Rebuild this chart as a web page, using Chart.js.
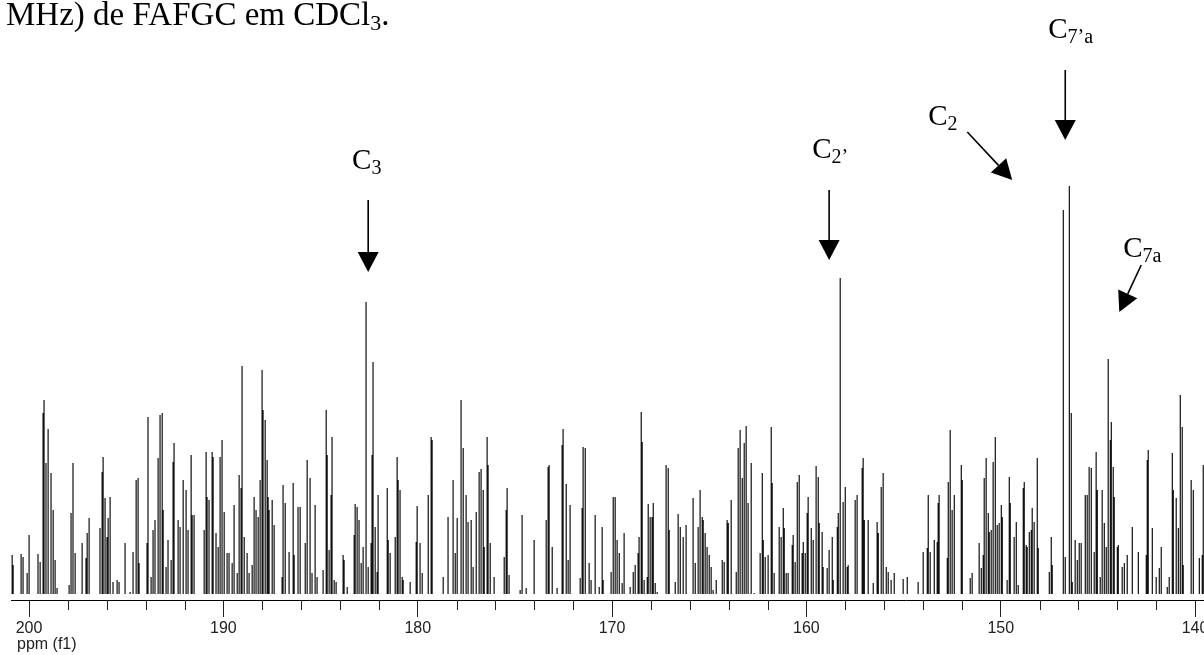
<!DOCTYPE html>
<html>
<head>
<meta charset="utf-8">
<script src="https://cdn.jsdelivr.net/npm/chart.js@4.4.1/dist/chart.umd.min.js"></script>
<style>
  html, body { margin: 0; padding: 0; background: #fff; }
</style>
</head>
<body>
<canvas id="canvas" width="1204" height="655"></canvas>
<script>
// chemical shift (ppm) of every spike, read left to right off the spectrum
let shifts = [
  // 201 - 186 ppm
  200.87,200.82,200.41,200.31,200.10,200.00,199.54,199.43,199.28,199.23,
  199.13,199.02,198.87,198.76,198.66,198.56,197.94,197.84,197.74,197.63,
  197.27,197.07,197.01,196.91,196.35,196.24,196.19,196.09,195.99,195.93,
  195.83,195.68,195.47,195.37,195.06,194.80,194.65,194.49,194.39,194.34,
  193.93,193.88,193.72,193.62,193.52,193.36,193.26,193.15,193.10,192.95,
  192.85,192.69,192.59,192.54,192.33,192.23,192.07,191.92,191.82,191.66,
  191.61,191.51,190.99,190.89,190.84,190.74,190.58,190.53,190.38,190.27,
  190.17,190.07,189.96,189.81,189.71,189.55,189.45,189.29,189.19,189.09,
  189.04,188.93,188.78,188.68,188.52,188.42,188.32,188.21,188.11,188.01,
  187.96,187.85,187.75,187.70,187.65,187.49,187.39,186.98,186.93,186.82,
  186.62,186.41,186.36,186.16,
  // 186 - 170.5 ppm
  186.05,185.79,185.69,185.54,185.44,185.28,185.18,184.87,184.71,184.66,
  184.56,184.46,184.41,184.30,184.20,183.84,183.79,183.63,183.27,183.22,
  183.12,183.02,182.91,182.81,182.66,182.55,182.40,182.35,182.30,182.19,
  182.09,182.04,181.57,181.52,181.42,181.16,181.06,181.01,180.91,180.80,
  180.75,180.39,180.08,180.03,179.88,179.77,179.46,179.31,179.26,178.69,
  178.44,178.18,178.07,177.97,177.77,177.66,177.51,177.41,177.25,177.15,
  176.99,176.84,176.74,176.63,176.58,176.43,176.38,176.27,176.07,175.55,
  175.45,175.40,175.30,174.73,174.63,174.42,174.01,173.39,173.29,173.24,
  173.08,172.83,172.57,172.52,172.36,172.26,172.16,171.64,171.54,171.49,
  171.38,171.18,171.08,170.87,170.66,
  // 170.5 - 155.5 ppm
  170.51,170.46,170.05,169.94,169.84,169.74,169.63,169.48,169.38,169.07,
  168.91,168.81,168.66,168.61,168.50,168.45,168.35,168.19,168.14,168.04,
  167.94,167.88,167.78,167.68,167.22,167.11,167.06,166.75,166.60,166.49,
  166.34,166.19,165.83,165.72,165.57,165.47,165.36,165.31,165.21,165.11,
  165.00,164.90,164.80,164.64,164.33,164.23,164.08,164.02,163.87,163.61,
  163.51,163.41,163.30,163.20,163.10,163.00,162.84,162.69,162.38,162.27,
  162.22,162.12,161.97,161.81,161.76,161.66,161.40,161.30,161.19,161.14,
  161.04,160.94,160.73,160.68,160.58,160.47,160.37,160.22,160.16,160.06,
  159.96,159.91,159.75,159.65,159.50,159.39,159.34,159.19,159.14,158.93,
  158.83,158.67,158.62,158.41,158.36,158.26,158.11,158.00,157.90,157.85,
  157.49,157.39,157.13,157.08,157.02,156.82,156.56,156.36,156.30,156.15,
  156.05,155.89,155.79,155.64,155.48,
  // 155 - 139.5 ppm
  155.02,154.81,154.25,153.99,153.78,153.73,153.63,153.42,153.27,153.22,
  153.17,152.75,152.70,152.60,152.50,152.39,152.03,151.98,151.57,151.47,
  151.11,151.00,150.90,150.85,150.75,150.64,150.59,150.49,150.39,150.28,
  150.18,150.08,149.97,149.92,149.67,149.56,149.51,149.31,149.20,149.10,
  148.84,148.79,148.69,148.64,148.53,148.43,148.38,148.28,148.12,148.07,
  147.50,147.40,147.35,146.78,146.68,146.47,146.37,146.32,146.17,146.06,
  145.96,145.86,145.65,145.55,145.45,145.34,145.19,145.09,145.03,144.88,
  144.78,144.67,144.57,144.47,144.36,144.31,144.21,144.16,144.00,143.95,
  143.75,143.64,143.49,143.23,142.92,142.51,142.46,142.41,142.20,142.00,
  141.84,141.74,141.43,141.33,141.17,141.12,140.97,140.86,140.76,140.66,
  140.61,140.20,140.09,139.78,139.63,139.58
];

// intensity of every spike (arbitrary units), same order as shifts
let heights = [
  39,29,40,37,21,59,40,32,181,194,
  131,165,121,84,34,6,9,81,131,41,
  51,36,61,76,66,122,137,96,57,76,
  97,12,14,12,51,2,42,114,116,31,
  51,177,17,64,74,136,179,181,84,27,
  54,34,132,151,74,67,114,104,64,139,
  79,79,64,142,97,94,142,137,61,47,
  137,154,82,41,41,31,89,21,119,106,
  228,57,41,21,29,97,84,77,114,224,
  184,174,134,97,84,94,69,17,109,91,
  42,111,39,87,

  87,51,134,116,21,89,17,24,184,139,
  44,99,157,14,12,39,34,7,59,90,
  87,74,31,47,292,27,51,139,232,67,
  22,99,106,54,41,57,137,114,104,17,
  14,12,52,88,51,21,99,157,154,17,
  77,114,41,76,194,146,99,72,74,27,
  82,122,125,104,47,157,129,51,17,37,
  84,106,19,4,79,6,54,74,127,129,
  47,6,149,165,110,34,89,16,86,147,
  146,31,14,79,7,

  67,14,22,97,97,54,41,11,61,7,
  22,29,41,57,182,152,14,17,90,77,
  77,91,11,2,129,126,64,12,80,67,
  57,69,96,31,67,104,77,74,61,47,
  39,27,4,14,34,32,74,71,94,22,
  146,164,116,151,168,91,131,1,41,121,
  54,37,39,167,111,21,67,57,86,66,
  21,21,49,59,32,112,119,41,52,41,
  81,97,66,54,128,117,71,62,27,26,
  44,57,14,67,81,316,92,107,27,29,
  94,99,126,136,74,74,11,72,61,107,
  121,27,22,14,21,

  15,17,12,42,46,99,42,54,52,91,
  99,36,112,164,84,99,129,114,16,21,
  51,26,39,116,136,81,62,64,132,157,
  69,71,89,77,14,117,91,57,72,9,
  106,112,49,47,62,64,86,72,136,46,
  22,57,29,384,37,408,181,12,54,34,
  51,51,99,99,127,126,42,142,104,17,
  104,71,47,235,154,172,127,97,47,49,
  27,31,39,67,42,39,134,144,66,17,
  26,47,7,17,141,104,96,66,199,167,
  29,114,104,36,39,129
];

// x axis
let axisMin = 139.54;
let axisMax = 200.93;
let majorStep = 10;
let minorStep = 2;
let axisTitle = 'ppm (f1)';

// assignments written over the spectrum
let peakSubs = ['3', '2\u2019', '2', '7\u2019a', '7a'];
let labelAt = [[183.38, 425], [159.70, 436], [153.73, 469], [147.56, 556], [143.70, 337]];
let arrowFrom = [[182.55, 394], [158.83, 404], [151.72, 462], [146.68, 524], [142.77, 329]];
let arrowTo = [[182.55, 322], [158.83, 334], [149.41, 414], [146.68, 454], [143.90, 282]];

let caption = 'MHz) de FAFGC em CDCl';

// every spike: up from below the baseline and back down
let floorLevel = -6;
let points = [];
for (let i = 0; i < shifts.length; i++) {
  points.push({x: shifts[i], y: floorLevel});
  points.push({x: shifts[i], y: heights[i]});
  points.push({x: shifts[i], y: floorLevel});
}

function drawArrow(ctx, x1, y1, x2, y2) {
  let ang = Math.atan2(y2 - y1, x2 - x1);
  let headLen = 20, headHalf = 10.5;
  let bx = x2 - headLen * Math.cos(ang);
  let by = y2 - headLen * Math.sin(ang);
  ctx.lineWidth = 1.6;
  ctx.beginPath();
  ctx.moveTo(x1, y1);
  ctx.lineTo(bx, by);
  ctx.stroke();
  ctx.beginPath();
  ctx.moveTo(x2, y2);
  ctx.lineTo(bx + headHalf * Math.sin(ang), by - headHalf * Math.cos(ang));
  ctx.lineTo(bx - headHalf * Math.sin(ang), by + headHalf * Math.cos(ang));
  ctx.closePath();
  ctx.fill();
}

let notes = {
  id: 'notes',
  afterDraw(chart) {
    let ctx = chart.ctx;
    let xs = chart.scales.x, ys = chart.scales.y;
    ctx.save();

    // minor ticks
    ctx.strokeStyle = '#222';
    ctx.lineWidth = 1;
    xs.ticks.forEach(t => {
      if (Math.round(t.value) % majorStep !== 0) {
        let px = Math.round(xs.getPixelForValue(t.value)) + 0.5;
        ctx.beginPath();
        ctx.moveTo(px, xs.top);
        ctx.lineTo(px, xs.top + 10);
        ctx.stroke();
      }
    });

    // axis title under the first label
    ctx.fillStyle = '#222';
    ctx.font = '16px "Liberation Sans", Arial, sans-serif';
    ctx.textAlign = 'left';
    ctx.textBaseline = 'alphabetic';
    ctx.fillText(axisTitle, 17, 649);

    // caption at top (cut off on the left, as in the page it came from)
    ctx.fillStyle = '#000';
    ctx.font = '33px "Liberation Serif", "Times New Roman", serif';
    ctx.fillText(caption, 6, 25);
    let cw = ctx.measureText(caption).width;
    ctx.font = '22px "Liberation Serif", "Times New Roman", serif';
    ctx.fillText('3', 6 + cw, 30);
    let sw = ctx.measureText('3').width;
    ctx.font = '33px "Liberation Serif", "Times New Roman", serif';
    ctx.fillText('.', 6 + cw + sw, 25);

    // peak labels and arrows
    ctx.strokeStyle = '#000';
    for (let i = 0; i < peakSubs.length; i++) {
      let lx = xs.getPixelForValue(labelAt[i][0]);
      let ly = ys.getPixelForValue(labelAt[i][1]);
      ctx.font = '29px "Liberation Serif", "Times New Roman", serif';
      ctx.fillText('C', lx, ly);
      let w = ctx.measureText('C').width;
      ctx.font = '20px "Liberation Serif", "Times New Roman", serif';
      ctx.fillText(peakSubs[i], lx + w, ly + 5);
      drawArrow(ctx,
        xs.getPixelForValue(arrowFrom[i][0]), ys.getPixelForValue(arrowFrom[i][1]),
        xs.getPixelForValue(arrowTo[i][0]), ys.getPixelForValue(arrowTo[i][1]));
    }
    ctx.restore();
  }
};

let options = {
  type: 'line',
  data: {
    datasets: [{
      data: points,
      borderColor: '#111',
      borderWidth: 1.2,
      pointRadius: 0,
      tension: 0,
      fill: false,
      clip: {left: 0, top: 0, right: 0, bottom: -6}
    }]
  },
  options: {
    responsive: false,
    animation: false,
    devicePixelRatio: 1,
    layout: {padding: {left: 11, right: 0, top: 0, bottom: 0}},
    plugins: {legend: {display: false}, tooltip: {enabled: false}},
    scales: {
      x: {
        type: 'linear',
        reverse: true,
        min: axisMin,
        max: axisMax,
        border: {display: true, color: '#000', width: 1},
        grid: {
          display: true,
          drawOnChartArea: false,
          drawTicks: true,
          tickLength: 17,
          tickColor: c => (Math.round(c.tick.value) % majorStep === 0 ? '#222' : 'rgba(0,0,0,0)')
        },
        ticks: {
          stepSize: minorStep,
          includeBounds: false,
          autoSkip: false,
          maxRotation: 0,
          padding: 2,
          color: '#222',
          font: {family: '"Liberation Sans", Arial, sans-serif', size: 16},
          callback: v => (Math.round(v) % majorStep === 0 ? String(Math.round(v)) : '')
        },
        afterFit: s => { s.height = 55; s.paddingLeft = 0; s.paddingRight = 0; }
      },
      y: {
        display: false,
        min: -6,
        max: 594
      }
    }
  },
  plugins: [notes]
};

let chart = new Chart(document.getElementById('canvas'), options);
</script>
</body>
</html>
